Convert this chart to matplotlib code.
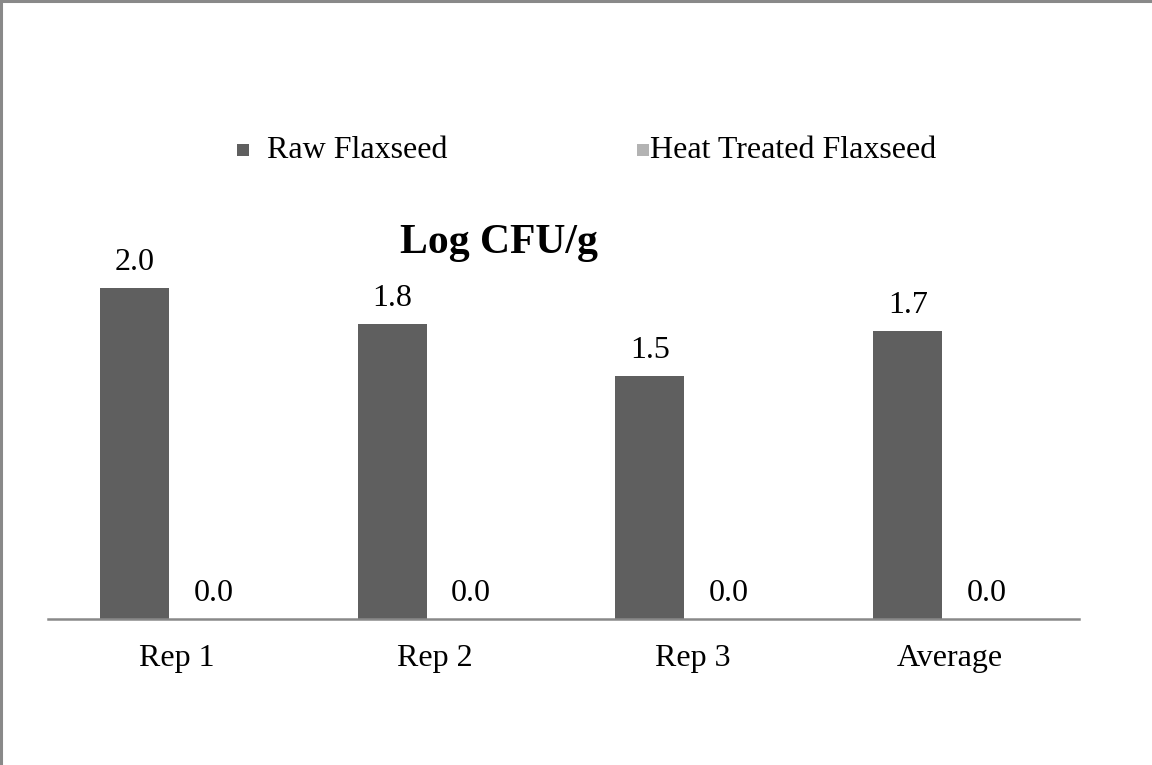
import matplotlib
matplotlib.use("Agg")
import matplotlib.pyplot as plt
from matplotlib.patches import Rectangle
from matplotlib.lines import Line2D
import numpy as np

categories = ["Rep 1", "Rep 2", "Rep 3", "Average"]
series_names = ["Raw Flaxseed", "Heat Treated Flaxseed"]
raw_values = [2.0, 1.78, 1.47, 1.74]
heat_values = [0.0, 0.0, 0.0, 0.0]
title = "Log CFU/g"

raw_color = "#5f5f5f"
heat_color = "#b3b3b3"
axis_gray = "#898989"

plt.rcParams['font.family'] = ['Liberation Serif', 'DejaVu Serif']

W, H = 1152, 765
fig = plt.figure(figsize=(W / 100, H / 100), dpi=100)
fig.patch.set_facecolor("white")

# axes box in pixels
left_px, right_px, base_px, top_px = 48, 1079, 619, 240
ax = fig.add_axes([left_px / W, 1 - base_px / H, (right_px - left_px) / W, (base_px - top_px) / H])

x = np.arange(len(categories))
bw = 0.268
b1 = ax.bar(x - 0.1646, raw_values, bw, color=raw_color, edgecolor="none")
b2 = ax.bar(x + 0.142, heat_values, bw, color=heat_color, edgecolor="none")

ax.set_xlim(-0.5, len(categories) - 0.5)
ax.set_ylim(0, (base_px - top_px) / 165.5)

for s in ["top", "right", "left"]:
    ax.spines[s].set_visible(False)
ax.spines["bottom"].set_color(axis_gray)
ax.spines["bottom"].set_linewidth(1.8)
ax.set_yticks([])
ax.set_xticks(x)
ax.set_xticklabels(categories, fontsize=23)
ax.tick_params(axis="x", length=0, pad=18)

for bars, vals in [(b1, raw_values), (b2, heat_values)]:
    for r, v in zip(bars, vals):
        ax.annotate(f"{v:.1f}", (r.get_x() + r.get_width() / 2, v),
                    xytext=(0, 8), textcoords="offset points",
                    ha="center", va="bottom", fontsize=23)

fig.text(499 / W, 1 - 243 / H, title, ha="center", va="center",
         fontsize=30, fontweight="bold")

# legend (manual, matching layout)
leg_y = 150
for (sq_x, tx_x, name, col) in [(237, 267, series_names[0], raw_color),
                                 (637, 650, series_names[1], heat_color)]:
    fig.patches.append(Rectangle((sq_x / W, 1 - (leg_y + 6) / H), 12 / W, 12 / H,
                                 transform=fig.transFigure, facecolor=col,
                                 edgecolor="none"))
    fig.text(tx_x / W, 1 - leg_y / H, name, ha="left", va="center", fontsize=23)

# figure border (left and top visible)
fig.add_artist(Line2D([1 / W, 1 / W], [0, 1], transform=fig.transFigure,
                      color=axis_gray, linewidth=2.2))
fig.add_artist(Line2D([0, 1], [1 - 1 / H, 1 - 1 / H], transform=fig.transFigure,
                      color=axis_gray, linewidth=2.2))

fig.savefig("out.png", dpi=100)
